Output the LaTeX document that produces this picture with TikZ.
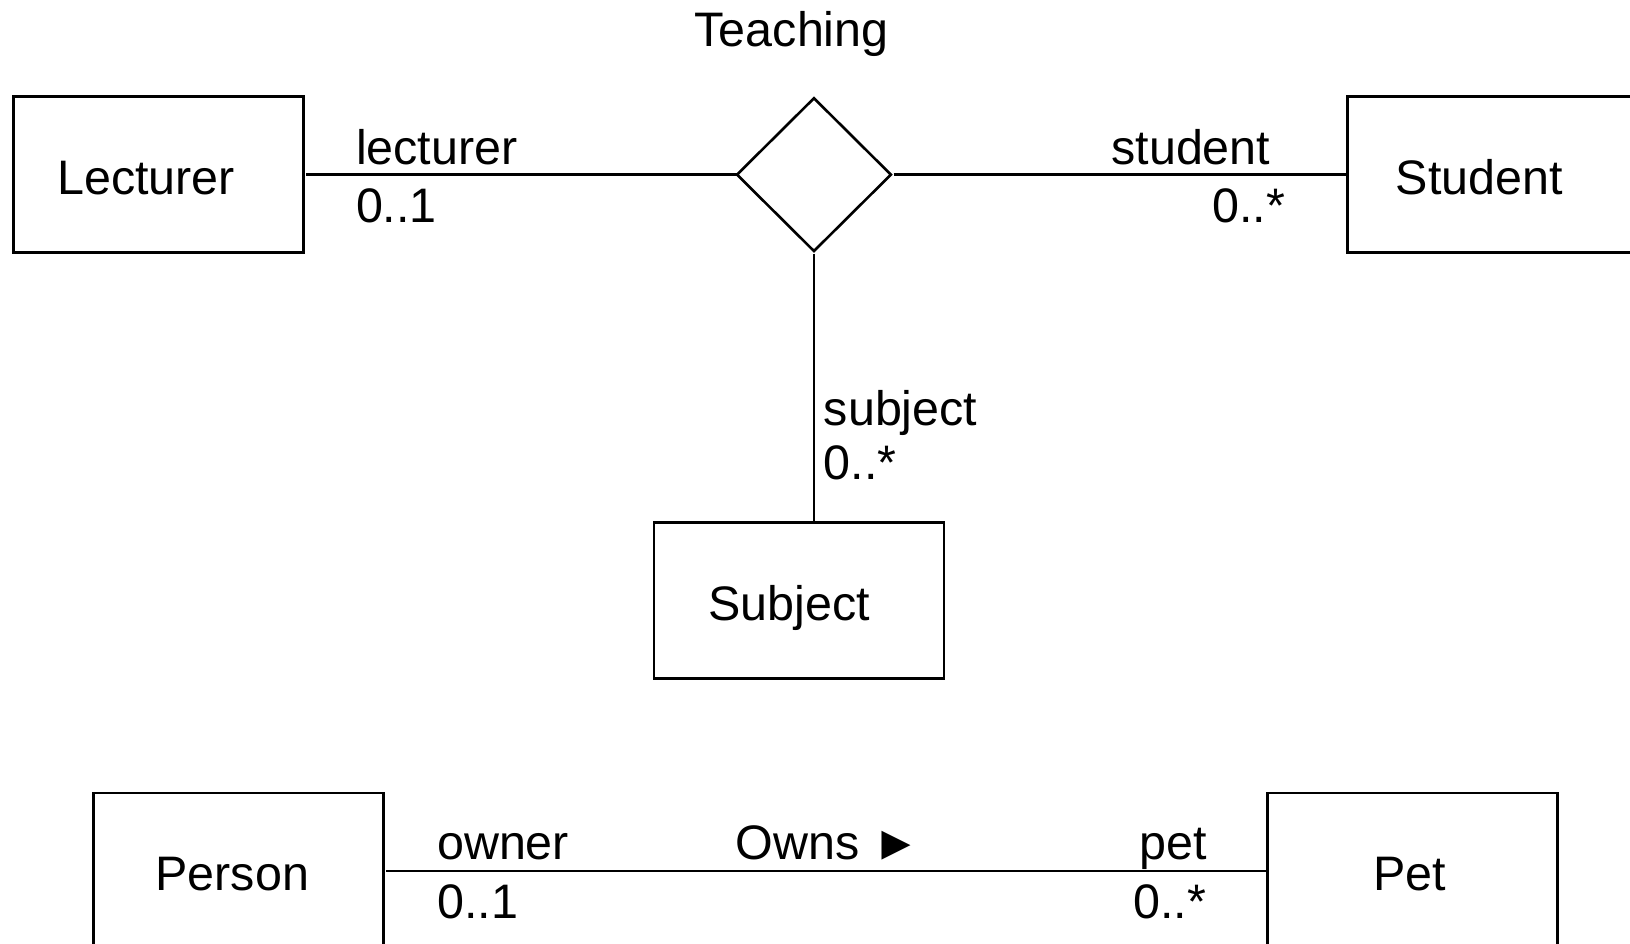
\documentclass[tikz,border=0pt]{standalone}
\usepackage{fontspec}
\setmainfont{Liberation Sans}
\usetikzlibrary{shapes.geometric}
\begin{document}
\begin{tikzpicture}[x=0.5pt,y=-0.5pt,
  every node/.style={font=\fontsize{23.3pt}{28pt}\selectfont, inner sep=0pt, outer sep=0pt},
  classbox/.style={draw, line width=1.25pt, minimum width=139.5pt, minimum height=75pt},
  assoc/.style={draw, diamond, line width=1.25pt, minimum width=74pt, minimum height=73.5pt},
  link/.style={line width=1.25pt},
  gap/.style={shorten <=1.3pt},
  txt/.style={anchor=base},
  lbl/.style={anchor=base west},
  rlbl/.style={anchor=base east}]
  \clip (0,0) rectangle (1568,908);
  \fill[white] (0,0) rectangle (1568,908);

  % ternary association "Teaching"
  \node[assoc] (teaching) at (783,168) {};
  \node[txt] (teachingT) at (761.5,45) {Teaching};

  \node[classbox] (lecturer) at (152.5,168) {};
  \node[txt] (lecturerT) at (140.5,187) {Lecturer};
  \node[classbox] (student) at (1435.5,168) {};
  \node[txt] (studentT) at (1423,187) {Student};
  \node[classbox] (subject) at (768.5,577.5) {};
  \node[txt] (subjectT) at (759,597) {Subject};

  \draw[link, gap] (lecturer.east) -- (teaching.west);
  \draw[link, gap] (teaching.east) -- (student.west);
  \draw[link, gap] (teaching.south) -- (teaching.south |- subject.north);

  \node[lbl] (roleLect) at (342.5,158) {lecturer};
  \node[lbl] (multLect) at (342.5,214) {0..1};
  \node[rlbl] (roleStud) at (1222,158) {student};
  \node[rlbl] (multStud) at (1236,214) {0..*};
  \node[lbl] (roleSubj) at (792.5,409) {subject};
  \node[lbl] (multSubj) at (792.5,461) {0..*};

  % binary association "Owns"
  \node[classbox] (person) at (229.5,838) {};
  \node[txt] (personT) at (223.5,857) {Person};
  \node[classbox] (pet) at (1358.5,838) {};
  \node[txt] (petT) at (1356,857) {Pet};

  \draw[link, gap] (person.east) -- (pet.west);

  \node[lbl] (roleOwner) at (420.5,827) {owner};
  \node[lbl] (multOwner) at (420.5,884) {0..1};
  \node[lbl] (ownsT) at (707.5,827) {Owns ►};
  \node[rlbl] (rolePet) at (1161,827) {pet};
  \node[rlbl] (multPet) at (1160,884) {0..*};
\end{tikzpicture}
\end{document}
